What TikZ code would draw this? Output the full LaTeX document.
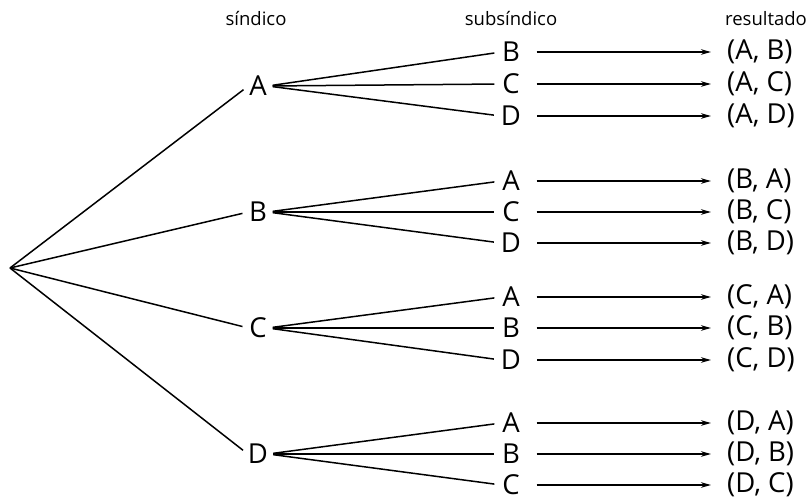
\documentclass[tikz,border=0pt]{standalone}
\usepackage{fontspec}
\setmainfont{Open Sans}
\usetikzlibrary{arrows.meta}
\begin{document}
\begin{tikzpicture}[x=1pt,y=-1pt,
  lab/.style={inner sep=0pt, minimum width=19pt, minimum height=22pt, font=\fontsize{27.5}{27.5}\selectfont},
  res/.style={inner sep=0pt, anchor=west, minimum height=22pt, font=\fontsize{27.5}{27.5}\selectfont},
  head/.style={inner sep=0pt, font=\fontsize{18.5}{18.5}\selectfont},
  edge/.style={line width=1.5pt},
  arr/.style={line width=1.5pt, -{Stealth[length=10pt,width=5.5pt]}, shorten <=16pt, shorten >=16pt}]
\useasboundingbox (0,0) rectangle (806,500);
\coordinate (root) at (10,268);
\node[head] (h1) at (256,19) {síndico};
\node[head] (h2) at (511,19) {subsíndico};
\node[head] (h3) at (766,19) {resultado};
\foreach \L/\y/\a/\b/\c/\ya/\yb/\yc in {A/86/B/C/D/52/84/116, B/212/A/C/D/181/212/243, C/328/A/B/D/297/328/360, D/454/A/B/C/423/454/485}{
  \node[lab] (l\L) at (258,\y) {\L};
  \draw[edge, shorten >=6pt] (root) -- (l\L.west);
  \foreach \s/\yy in {\a/\ya, \b/\yb, \c/\yc}{
    \node[lab] (m\L\s) at (511,\yy) {\s};
    \node[res] (r\L\s) at (727,\yy) {(\L, \s)};
    \draw[edge, shorten <=5pt, shorten >=7pt] (l\L.east) -- (m\L\s.west);
    \draw[arr] (m\L\s.east) -- (r\L\s.west);
  }
}
\end{tikzpicture}
\end{document}
